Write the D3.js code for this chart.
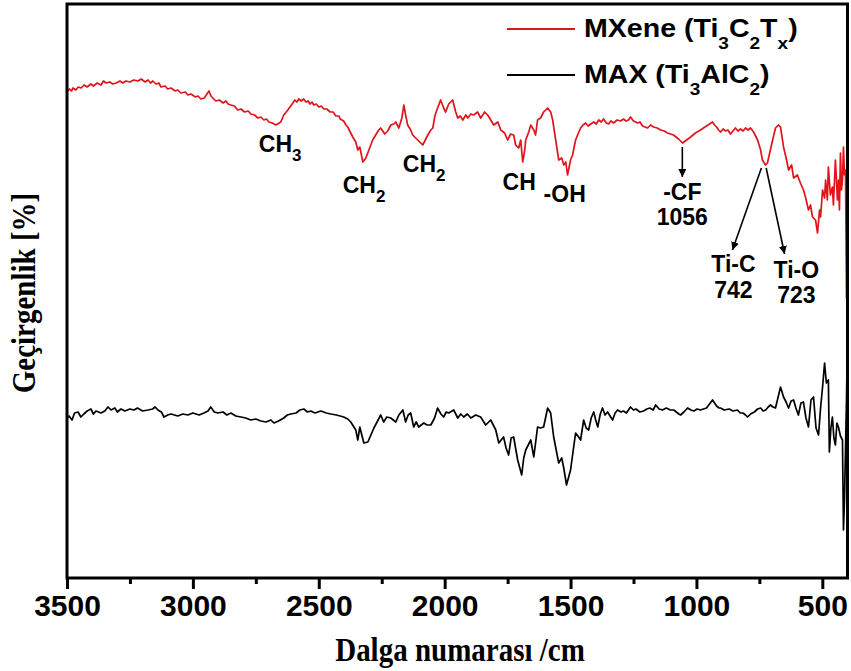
<!DOCTYPE html>
<html>
<head>
<meta charset="utf-8">
<script src="https://cdn.jsdelivr.net/npm/d3@7"></script>
<style>
  html, body { margin: 0; padding: 0; background: #fff; }
  svg { display: block; }
  .tick text { font-family: "Liberation Sans", Arial, sans-serif; font-weight: bold; }
</style>
</head>
<body>
<svg id="chart" width="851" height="671"></svg>
<script>
// FTIR spectra, [wavenumber (cm-1), transmittance (a.u.)]
const mxeneSpectrum = [
  [3500,486],[3490,489],[3482,487],[3476,490],[3465,488],[3455,491],[3444,490],[3432,493],[3420,491],
  [3405,494],[3395,492],[3380,495],[3365,493],[3355,497],[3345,495],[3330,496],[3318,494],[3305,495],
  [3290,497],[3278,495],[3266,497],[3250,496],[3235,498],[3218,497],[3205,499],[3190,496],[3178,498],
  [3168,495],[3159,497],[3147,494],[3135,495],[3127,491],[3110,492],[3100,489],[3087,490],[3070,487],
  [3060,488],[3048,485],[3030,486],[3020,483],[3008,484],[2990,481],[2980,482],[2968,479],[2955,480],
  [2944,484],[2936,487],[2928,482],[2921,480],[2909,477],[2895,478],[2880,475],[2869,477],[2860,474],
  [2849,473],[2835,472],[2822,468],[2809,469],[2795,466],[2780,467],[2770,464],[2755,463],[2742,460],
  [2730,461],[2718,458],[2708,459],[2698,456],[2685,455],[2670,453],[2651,456],[2639,463],[2623,468],
  [2603,475],[2595,478],[2587,476],[2579,479],[2570,477],[2560,479],[2551,476],[2542,477],[2535,474],
  [2527,476],[2520,473],[2510,474],[2500,471],[2490,472],[2480,469],[2468,469],[2455,466],[2443,466],
  [2432,462],[2420,462],[2415,459],[2401,457],[2392,453],[2385,451],[2373,445],[2365,441],[2353,436],
  [2345,428],[2337,431],[2325,416],[2313,420],[2301,428],[2286,438],[2274,443],[2262,448],[2254,450],
  [2238,444],[2226,447],[2214,453],[2202,454],[2194,456],[2182,450],[2170,460],[2162,473],[2155,463],
  [2147,453],[2135,448],[2127,443],[2115,440],[2107,438],[2095,435],[2087,433],[2075,439],[2067,443],
  [2055,448],[2047,450],[2039,462],[2031,468],[2016,478],[2004,470],[1996,466],[1984,474],[1968,478],
  [1956,466],[1948,460],[1938,462],[1928,458],[1916,463],[1908,460],[1896,464],[1885,463],[1869,466],
  [1857,460],[1841,466],[1829,463],[1817,458],[1805,453],[1789,456],[1777,448],[1762,445],[1750,438],
  [1738,444],[1726,443],[1718,433],[1706,430],[1698,438],[1690,416],[1682,428],[1678,438],[1666,446],
  [1658,453],[1646,448],[1639,443],[1631,458],[1619,460],[1607,466],[1591,470],[1579,466],[1571,458],
  [1559,438],[1547,418],[1535,420],[1527,413],[1519,416],[1512,403],[1500,418],[1492,423],[1480,438],
  [1472,443],[1460,450],[1450,453],[1440,455],[1430,452],[1420,454],[1408,456],[1398,454],[1388,458],
  [1378,456],[1369,459],[1358,455],[1349,454],[1340,457],[1329,455],[1315,458],[1301,457],[1290,459],
  [1280,457],[1270,458],[1262,461],[1250,457],[1234,455],[1224,456],[1214,452],[1204,451],[1194,450],
  [1182,453],[1170,451],[1156,450],[1142,448],[1128,447],[1115,445],[1103,444],[1091,443],[1071,439],
  [1055,435],[1039,438],[1023,441],[1004,445],[984,448],[960,452],[948,454],[936,456],[928,453],
  [920,451],[912,448],[904,446],[894,449],[884,447],[875,448],[865,444],[855,447],[845,450],[835,447],
  [825,449],[815,447],[805,450],[795,448],[785,450],[773,446],[757,438],[745,428],[738,418],[726,413],
  [718,415],[702,433],[686,450],[674,453],[666,451],[654,431],[642,418],[634,408],[622,413],[614,400],
  [599,403],[587,395],[575,388],[567,381],[555,368],[547,373],[539,361],[527,358],[519,345],[511,368],
  [507,361],[499,388],[491,380],[487,398],[480,378],[476,411],[468,383],[460,391],[456,373],[448,418],
  [440,378],[436,398],[432,368],[428,425],[424,388],[420,398],[416,431],[412,403],[408,408],[404,280],
  [400,533]
];

const maxSpectrum = [
  [3500,160],[3492,162],[3480,158],[3470,165],[3456,166],[3445,161],[3433,164],[3420,167],[3405,169],
  [3395,164],[3385,167],[3365,165],[3350,167],[3337,171],[3325,168],[3310,170],[3300,166],[3286,169],
  [3270,167],[3250,169],[3234,168],[3220,170],[3200,167],[3178,168],[3160,169],[3150,171],[3139,168],
  [3125,166],[3115,161],[3100,163],[3087,164],[3060,162],[3040,164],[3020,163],[3000,165],[2975,163],
  [2956,165],[2940,167],[2929,171],[2915,166],[2901,165],[2880,166],[2865,163],[2849,165],[2830,162],
  [2809,161],[2790,160],[2770,158],[2750,159],[2730,157],[2710,156],[2690,158],[2678,155],[2660,157],
  [2639,160],[2625,163],[2611,164],[2590,165],[2575,168],[2559,169],[2545,166],[2532,167],[2515,165],
  [2492,167],[2470,165],[2452,164],[2430,163],[2415,162],[2401,161],[2385,159],[2373,156],[2353,148],
  [2345,138],[2337,151],[2321,135],[2305,136],[2281,150],[2254,163],[2242,156],[2230,161],[2214,160],
  [2194,156],[2182,163],[2166,168],[2155,156],[2145,163],[2135,165],[2123,151],[2113,156],[2103,151],
  [2083,155],[2070,153],[2055,153],[2040,160],[2028,170],[2015,164],[2004,161],[1994,166],[1984,165],
  [1964,168],[1948,160],[1936,164],[1924,161],[1910,164],[1896,160],[1877,163],[1857,161],[1837,153],
  [1817,158],[1797,148],[1785,135],[1766,141],[1756,130],[1746,123],[1736,140],[1726,141],[1710,118],
  [1694,103],[1686,120],[1678,128],[1658,138],[1646,121],[1631,151],[1620,150],[1607,151],[1591,170],
  [1579,165],[1567,141],[1547,115],[1535,120],[1527,110],[1516,93],[1500,108],[1480,145],[1468,141],
  [1460,138],[1448,158],[1438,150],[1428,148],[1418,160],[1408,166],[1400,158],[1392,151],[1382,164],
  [1373,170],[1363,163],[1353,166],[1343,162],[1333,158],[1323,165],[1313,168],[1300,166],[1290,167],
  [1278,165],[1262,171],[1250,168],[1240,169],[1225,166],[1210,167],[1197,169],[1185,170],[1172,168],
  [1162,173],[1148,169],[1135,168],[1120,170],[1103,168],[1090,168],[1080,166],[1070,164],[1063,163],
  [1050,166],[1035,170],[1022,168],[1010,167],[997,169],[984,168],[972,169],[960,170],[948,174],
  [936,178],[928,175],[920,172],[910,170],[904,170],[890,168],[870,169],[855,167],[837,168],[826,165],
  [815,165],[805,163],[797,161],[785,164],[770,166],[757,169],[745,170],[735,167],[725,168],[715,171],
  [706,173],[696,171],[686,170],[666,191],[654,181],[644,176],[634,170],[624,177],[614,178],[605,170],
  [595,163],[585,175],[575,176],[565,160],[555,151],[545,178],[535,181],[525,150],[515,143],[507,170],
  [499,191],[491,215],[484,195],[476,198],[472,126],[466,150],[460,161],[454,140],[448,133],[442,155],
  [436,151],[428,142],[420,138],[416,48],[412,78],[404,178],[400,243]
];

// Wavenumber axis ticks
const majorTicks = [3500, 3000, 2500, 2000, 1500, 1000, 500];
const minorTicks = [3250, 2750, 2250, 1750, 1250, 750];

// Series legend entries
const seriesNames = [
  { parts: [["MXene (Ti", ""], ["3", "sub"], ["C", ""], ["2", "sub"], ["T", ""], ["x", "sub"], [")", ""]], color: "#e0141b" },
  { parts: [["MAX (Ti", ""], ["3", "sub"], ["AlC", ""], ["2", "sub"], [")", ""]], color: "#000" }
];

// Band assignments: label text with optional subscript, anchored at (wavenumber, transmittance)
const bandLabels = [
  { text: "CH", sub: "3", w: 2738, t: 426, anchor: "start" },
  { text: "CH", sub: "2", w: 2405, t: 385, anchor: "start" },
  { text: "CH", sub: "2", w: 2166, t: 406, anchor: "start" },
  { text: "CH", sub: "",  w: 1770, t: 388, anchor: "start" },
  { text: "-OH", sub: "", w: 1607, t: 376, anchor: "start" },
  { text: "-CF", sub: "", w: 1056, t: 378, anchor: "middle" },
  { text: "1056", sub: "", w: 1056, t: 353, anchor: "middle" },
  { text: "Ti-C", sub: "", w: 853, t: 306, anchor: "middle" },
  { text: "742", sub: "", w: 853, t: 280, anchor: "middle" },
  { text: "Ti-O", sub: "", w: 603, t: 300, anchor: "middle" },
  { text: "723", sub: "", w: 603, t: 275, anchor: "middle" }
];

// Arrows from the band position on the spectrum to its label
const bandArrows = [
  { from: [1056, 431], to: [1056, 401] },
  { from: [742, 410], to: [857, 328] },
  { from: [723, 410], to: [650, 324] }
];

const svg = d3.select("#chart");
const plotLeft = 67, plotRight = 847.5, plotTop = 4, plotBottom = 578;

const x = d3.scaleLinear().domain([3500, 400]).range([plotLeft, plotRight]);
const y = d3.scaleLinear().domain([0, 574]).range([plotBottom, plotTop]);

svg.append("defs").append("marker")
  .attr("id", "arrowhead")
  .attr("viewBox", "0 0 10 10")
  .attr("refX", 10).attr("refY", 5)
  .attr("markerWidth", 8).attr("markerHeight", 8)
  .attr("markerUnits", "userSpaceOnUse")
  .attr("orient", "auto")
  .append("path").attr("d", "M0,0 L10,5 L0,10 Z").attr("fill", "#000");

const line = d3.line().x(d => x(d[0])).y(d => y(d[1]));

svg.append("path").datum(maxSpectrum)
  .attr("d", line).attr("fill", "none")
  .attr("stroke", "#000").attr("stroke-width", 1.7).attr("stroke-linejoin", "round");

svg.append("path").datum(mxeneSpectrum)
  .attr("d", line).attr("fill", "none")
  .attr("stroke", "#e0141b").attr("stroke-width", 1.7).attr("stroke-linejoin", "round");

// Frame
svg.append("rect")
  .attr("x", plotLeft).attr("y", plotTop)
  .attr("width", plotRight - plotLeft).attr("height", plotBottom - plotTop)
  .attr("fill", "none").attr("stroke", "#000").attr("stroke-width", 3);

// Bottom axis: major ticks with labels, minor ticks without
const xAxis = svg.append("g").attr("transform", `translate(0,${plotBottom})`)
  .call(d3.axisBottom(x).tickValues(majorTicks).tickFormat(d3.format("d")).tickSize(11).tickSizeOuter(0).tickPadding(6));
xAxis.select(".domain").remove();
xAxis.selectAll(".tick line").attr("stroke-width", 3);
xAxis.selectAll(".tick text").attr("font-size", 30).attr("fill", "#000");

const xMinor = svg.append("g").attr("transform", `translate(0,${plotBottom})`)
  .call(d3.axisBottom(x).tickValues(minorTicks).tickFormat("").tickSize(6).tickSizeOuter(0));
xMinor.select(".domain").remove();
xMinor.selectAll(".tick line").attr("stroke-width", 3);

// Axis titles
svg.append("text")
  .attr("transform", "translate(460,661) scale(1,1.17)")
  .attr("text-anchor", "middle")
  .attr("font-family", "'Liberation Serif', 'Times New Roman', serif")
  .attr("font-weight", "bold").attr("font-size", 29)
  .text("Dalga numarası /cm");

svg.append("text")
  .attr("transform", "translate(35,293) rotate(-90) scale(1,1.15)")
  .attr("text-anchor", "middle")
  .attr("font-family", "'Liberation Serif', 'Times New Roman', serif")
  .attr("font-weight", "bold").attr("font-size", 29)
  .text("Geçirgenlik [%]");

// Legend
const legend = svg.append("g");
seriesNames.forEach((s, i) => {
  const ly = 29 + i * 46;
  legend.append("line")
    .attr("x1", 507).attr("x2", 575).attr("y1", ly).attr("y2", ly)
    .attr("stroke", s.color).attr("stroke-width", 1.8);
  const t = legend.append("text")
    .attr("transform", `translate(584,${ly + 8}) scale(1.12,1)`)
    .attr("font-family", "'Liberation Sans', Arial, sans-serif")
    .attr("font-weight", "bold").attr("font-size", 25.5);
  let shifted = false;
  s.parts.forEach(([str, kind]) => {
    const sp = t.append("tspan").text(str);
    if (kind === "sub" && !shifted) { sp.attr("dy", 12).attr("font-size", 17); shifted = true; }
    else if (kind === "sub") { sp.attr("font-size", 17); }
    else if (shifted) { sp.attr("dy", -12); shifted = false; }
  });
});

// Band labels
const labels = svg.append("g")
  .attr("font-family", "'Liberation Sans', Arial, sans-serif")
  .attr("font-weight", "bold").attr("font-size", 23);
bandLabels.forEach(b => {
  const t = labels.append("text")
    .attr("x", x(b.w)).attr("y", y(b.t))
    .attr("text-anchor", b.anchor).text(b.text);
  if (b.sub) t.append("tspan").attr("dy", 9).attr("font-size", 17).text(b.sub);
});

// Arrows
svg.append("g").selectAll("line").data(bandArrows).join("line")
  .attr("x1", d => x(d.from[0])).attr("y1", d => y(d.from[1]))
  .attr("x2", d => x(d.to[0])).attr("y2", d => y(d.to[1]))
  .attr("stroke", "#000").attr("stroke-width", 1.6)
  .attr("marker-end", "url(#arrowhead)");
</script>
</body>
</html>
